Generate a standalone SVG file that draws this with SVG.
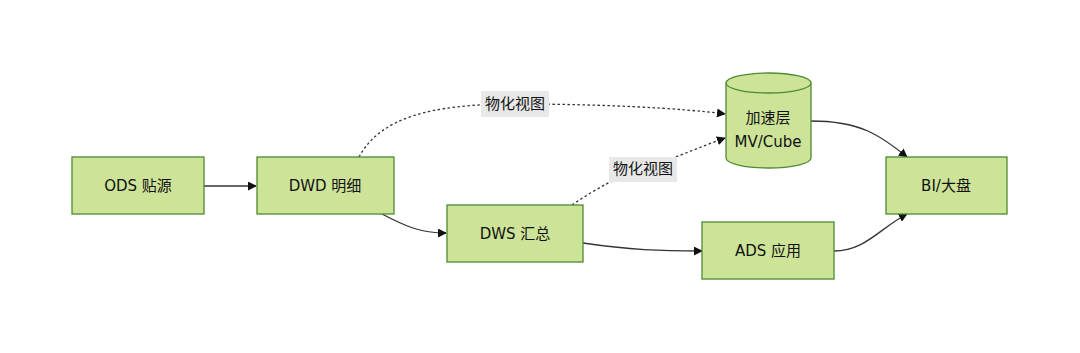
<svg xmlns="http://www.w3.org/2000/svg" width="1080" height="353" viewBox="0 0 1080 353">
<defs>
<style>
.node{fill:#cde498;stroke:#4d8a32;stroke-width:1.3}
.t{font-family:"DejaVu Sans","Noto Sans CJK SC",sans-serif;font-size:15px;fill:#111;text-anchor:middle;dominant-baseline:central}
.e{fill:none;stroke:#333;stroke-width:1.3}
.d{fill:none;stroke:#333;stroke-width:1.3;stroke-dasharray:2.5 2.5}
.lb{fill:#e8e8e8}
</style>
<marker id="ah" viewBox="0 0 10 10" refX="9" refY="5" markerWidth="9" markerHeight="9" markerUnits="userSpaceOnUse" orient="auto">
<path d="M0,0 L10,5 L0,10 z" fill="#111"/>
</marker>
</defs>
<rect width="1080" height="353" fill="#fff"/>
<g id="connectors">
<path class="e" d="M204,186 L256,186" marker-end="url(#ah)"/>
<path class="e" d="M382,214 C405,226 420,233 446,233" marker-end="url(#ah)"/>
<path class="e" d="M583,243 C630,250 660,251 702,251" marker-end="url(#ah)"/>
<path class="e" d="M834,251 C865,251 880,228 907,214" marker-end="url(#ah)"/>
<path class="e" d="M811,121 C860,121 880,135 907,157" marker-end="url(#ah)"/>
<path class="d" d="M359,157 C380,118 430,104 515,104 C600,104 680,108 725,114" marker-end="url(#ah)"/>
<path class="d" d="M572,205 C600,186 620,176 642,169 C670,160 700,147 725,138" marker-end="url(#ah)"/>
<g id="label1"><rect class="lb" x="481" y="91" width="68" height="26"/><text class="t" x="515" y="104">物化视图</text></g>
<g id="label2"><rect class="lb" x="609" y="157" width="68" height="25"/><text class="t" x="643" y="169">物化视图</text></g>
</g>
<g id="ods"><rect class="node" x="72" y="157" width="132" height="57"/><text class="t" x="138" y="186">ODS 贴源</text></g>
<g id="dwd"><rect class="node" x="257" y="157" width="137" height="57"/><text class="t" x="325" y="186">DWD 明细</text></g>
<g id="dws"><rect class="node" x="447" y="205" width="136" height="57"/><text class="t" x="515" y="234">DWS 汇总</text></g>
<g id="ads"><rect class="node" x="702" y="222" width="132" height="57"/><text class="t" x="768" y="251">ADS 应用</text></g>
<g id="bi"><rect class="node" x="886" y="157" width="121" height="57"/><text class="t" x="946" y="186">BI/大盘</text></g>
<g id="cube">
<path class="node" d="M726,83 A42.5,10 0 0 1 811,83 L811,158 A42.5,10 0 0 1 726,158 Z"/>
<path class="node" d="M726,83 A42.5,10 0 0 0 811,83" fill="none"/>
<text class="t" x="768" y="118">加速层</text>
<text class="t" x="768" y="142">MV/Cube</text>
</g>
</svg>
